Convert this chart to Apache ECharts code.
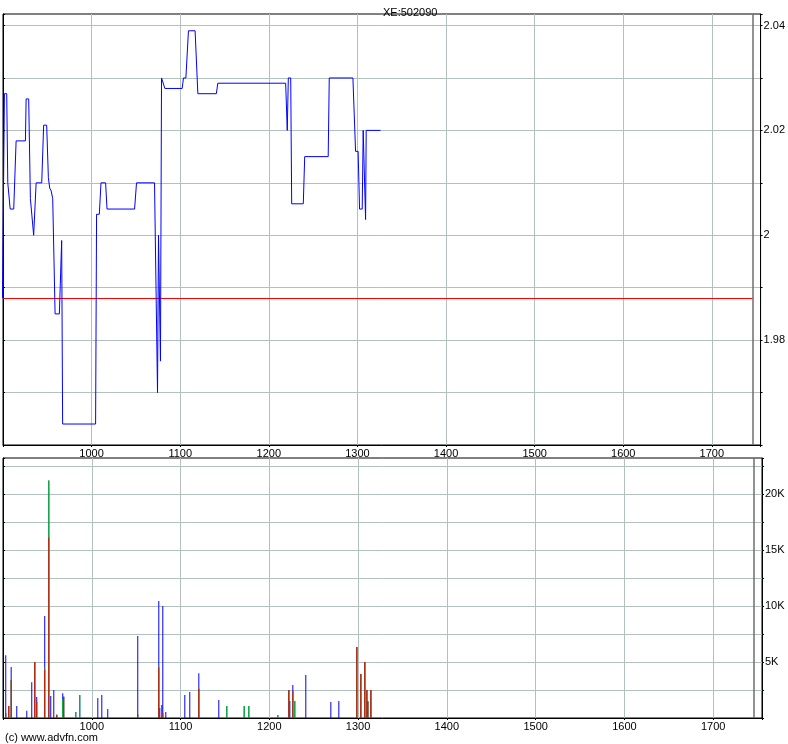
<!DOCTYPE html>
<html><head><meta charset="utf-8">
<script src="https://cdn.jsdelivr.net/npm/echarts@6/dist/echarts.min.js"></script>
<style>html,body{margin:0;padding:0;background:#fff}#c{width:788px;height:744px}</style>
</head><body><div id="c"></div>
<script>
const chartTitle = 'XE:502090';
const copyright = '(c) www.advfn.com';

const priceX = [899.4, 900.9, 901.6, 904.2, 905.4, 908.1, 912.1, 914.8, 925.3, 926.1, 929.0, 930.9, 932.4, 934.6, 937.4, 943.7, 945.9, 949.3, 951.2, 952.7, 954.3, 956.1, 957.2, 958.8, 963.6, 966.2, 967.3, 1004.5, 1005.6, 1008.7, 1010.6, 1015.8, 1017.4, 1048.5, 1050.7, 1071.0, 1074.4, 1075.5, 1077.7, 1078.9, 1080.8, 1082.7, 1102.2, 1103.7, 1106.4, 1109.3, 1116.8, 1119.9, 1140.8, 1142.4, 1219.0, 1220.8, 1222.0, 1224.7, 1225.8, 1238.9, 1240.5, 1267.0, 1268.2, 1294.9, 1297.9, 1300.8, 1302.4, 1305.4, 1306.5, 1309.2, 1309.9, 1326.1];
const priceY = [1.988, 1.988, 2.027, 2.027, 2.010, 2.005, 2.005, 2.018, 2.018, 2.026, 2.026, 2.007, 2.007, 2.000, 2.010, 2.010, 2.021, 2.021, 2.011, 2.009, 2.0085, 2.007, 2.007, 1.985, 1.985, 1.999, 1.964, 1.964, 2.004, 2.004, 2.010, 2.010, 2.005, 2.005, 2.010, 2.010, 1.970, 2.000, 1.976, 2.030, 2.030, 2.028, 2.028, 2.030, 2.030, 2.039, 2.039, 2.027, 2.027, 2.029, 2.029, 2.020, 2.030, 2.030, 2.006, 2.006, 2.015, 2.015, 2.030, 2.030, 2.016, 2.016, 2.005, 2.005, 2.020, 2.003, 2.020, 2.020];
const prevClose = 1.988;
const nowMarker = 1746.2;

const volX = [903.1, 906.5, 909.2, 915.5, 926.8, 932.4, 935.8, 938.0, 947.0, 951.6, 953.8, 957.2, 960.6, 967.3, 968.4, 982.0, 986.5, 1006.8, 1011.3, 1018.0, 1051.8, 1075.5, 1076.6, 1078.9, 1080.0, 1083.4, 1104.8, 1110.4, 1120.6, 1143.1, 1152.1, 1171.7, 1176.9, 1209.6, 1222.0, 1223.1, 1226.5, 1228.7, 1241.1, 1269.3, 1278.3, 1298.6, 1303.1, 1307.6, 1309.9, 1311.0, 1314.4];
const volRed = [450, 1070, 3400, 0, 0, 0, 5000, 1430, 4300, 16100, 0, 0, 300, 0, 1900, 0, 0, 0, 0, 0, 350, 4500, 0, 0, 450, 0, 0, 0, 2600, 0, 0, 0, 0, 0, 2500, 0, 2400, 0, 0, 0, 0, 6340, 3930, 5000, 2500, 1500, 2500];
const volGreen = [0, 0, 0, 0, 0, 0, 0, 0, 150, 5100, 0, 0, 0, 1670, 0, 540, 2050, 0, 0, 0, 0, 100, 0, 0, 0, 0, 0, 0, 0, 0, 1070, 1070, 1070, 270, 0, 0, 0, 1520, 0, 0, 0, 0, 0, 0, 0, 0, 0];
const volBlue = [5150, 0, 1150, 1070, 650, 3200, 0, 445, 4650, 0, 1960, 2500, 0, 530, 0, 0, 0, 1790, 2050, 800, 6970, 5850, 890, 1160, 9550, 540, 2050, 2320, 1400, 1600, 0, 0, 0, 0, 0, 1520, 550, 0, 3840, 1430, 1520, 0, 0, 0, 0, 0, 0];

const xTickLabels = [1000, 1100, 1200, 1300, 1400, 1500, 1600, 1700];
const priceTickLabels = [1.98, 2, 2.02, 2.04];
const volTickLabels = [5000, 10000, 15000, 20000];

const X_MIN = 900, X_MAX = 1755;
const P_MIN = 1.96, P_MAX = 2.0422;
const V_MIN = 0, V_MAX = 23200;

const FONT = '"Liberation Sans Narrow", "Liberation Sans", Arial, sans-serif';
const GRID_COLOR = '#b3c0c0';

// cumulative heights: red at bottom, green above, blue on top (drawn as overlaid bars)
const cumRed = volRed.slice();
const cumGreen = volRed.map((r, i) => r + volGreen[i]);
const cumBlue = cumGreen.map((g, i) => g + volBlue[i]);

function xAxisCfg(gi) {
  return {
    type: 'value', gridIndex: gi, min: X_MIN, max: X_MAX, interval: 100, position: 'bottom',
    axisLine: { show: true, onZero: false, lineStyle: { color: '#000', width: 1 } },
    axisTick: { show: true, length: 2, lineStyle: { color: '#000' } },
    axisLabel: {
      color: '#000', fontSize: 11, fontFamily: FONT, margin: 3,
      formatter: v => xTickLabels.some(t => Math.abs(t - v) < 1e-6) ? String(v) : ''
    },
    splitLine: { show: true, showMinLine: false, showMaxLine: false, lineStyle: { color: GRID_COLOR, width: 1 } }
  };
}

function volSeries(name, arr, color, z) {
  return {
    type: 'bar', name: name, xAxisIndex: 1, yAxisIndex: 2,
    data: volX.map((x, i) => [x, arr[i]]).filter(d => d[1] > 0),
    barWidth: 1, barGap: '-100%', z: z,
    itemStyle: { color: color }
  };
}

const option = {
  animation: false,
  backgroundColor: '#fff',
  title: {
    text: chartTitle, left: 378, top: 2,
    textStyle: { fontSize: 11, fontWeight: 'normal', color: '#000', fontFamily: FONT }
  },
  graphic: [{
    type: 'text', left: 5, top: 732,
    style: { text: copyright, fontSize: 11, fill: '#000', fontFamily: FONT }
  }],
  grid: [
    { left: 3, right: 26, top: 14, height: 431, show: true, borderColor: '#000', borderWidth: 1, backgroundColor: '#fff' },
    { left: 3, right: 26, top: 458, height: 260, show: true, borderColor: '#000', borderWidth: 1, backgroundColor: '#fff' }
  ],
  xAxis: [xAxisCfg(0), xAxisCfg(1)],
  yAxis: [
    {
      type: 'value', gridIndex: 0, position: 'right', min: P_MIN, max: P_MAX, interval: 0.01,
      axisLine: { show: true, lineStyle: { color: '#000' } },
      axisTick: { show: true, length: 2, lineStyle: { color: '#000' } },
      axisLabel: {
        color: '#000', fontSize: 11, fontFamily: FONT, margin: 3,
        formatter: v => priceTickLabels.some(t => Math.abs(t - v) < 1e-6) ? String(+v.toFixed(2)) : ''
      },
      splitLine: { show: true, showMinLine: false, showMaxLine: false, lineStyle: { color: GRID_COLOR } }
    },
    {
      type: 'value', gridIndex: 0, position: 'left', min: P_MIN, max: P_MAX, interval: 0.01,
      axisLine: { show: true, lineStyle: { color: '#000' } },
      axisTick: { show: true, inside: true, length: 2, lineStyle: { color: '#000' } },
      axisLabel: { show: false }, splitLine: { show: false }
    },
    {
      type: 'value', gridIndex: 1, position: 'right', min: V_MIN, max: V_MAX, interval: 2500,
      axisLine: { show: true, lineStyle: { color: '#000' } },
      axisTick: { show: true, length: 2, lineStyle: { color: '#000' } },
      axisLabel: {
        color: '#000', fontSize: 11, fontFamily: FONT, margin: 3,
        formatter: v => volTickLabels.indexOf(v) >= 0 ? (v / 1000) + 'K' : ''
      },
      splitLine: {
        show: true, showMinLine: false, showMaxLine: false, lineStyle: { color: GRID_COLOR }
      }
    },
    {
      type: 'value', gridIndex: 1, position: 'left', min: V_MIN, max: V_MAX, interval: 2500,
      axisLine: { show: true, lineStyle: { color: '#000' } },
      axisTick: { show: true, inside: true, length: 2, lineStyle: { color: '#000' } },
      axisLabel: { show: false }, splitLine: { show: false }
    }
  ],
  series: [
    {
      type: 'line', name: 'price', xAxisIndex: 0, yAxisIndex: 0,
      data: priceX.map((x, i) => [x, priceY[i]]),
      showSymbol: false, symbol: 'none',
      lineStyle: { color: '#0000ff', width: 1 },
      z: 5,
      markLine: {
        silent: true, symbol: 'none', label: { show: false },
        data: [
          [{ coord: [X_MIN, prevClose], lineStyle: { color: '#ff0000', width: 1, type: 'solid' } },
           { coord: [nowMarker, prevClose] }],
          { xAxis: nowMarker, lineStyle: { color: '#6e6e6e', width: 1.5, type: 'solid' } }
        ]
      }
    },
    Object.assign(volSeries('volTotal', cumBlue, '#0000ff', 2), {
      markLine: {
        silent: true, symbol: 'none', label: { show: false },
        data: [{ xAxis: nowMarker, lineStyle: { color: '#6e6e6e', width: 1.5, type: 'solid' } }]
      }
    }),
    volSeries('volGreen', cumGreen, '#00cc00', 3),
    volSeries('volRed', cumRed, '#ee0000', 4)
  ]
};

const chart = echarts.init(document.getElementById('c'), null, { renderer: 'canvas' });
chart.setOption(option);
</script>
</body></html>
